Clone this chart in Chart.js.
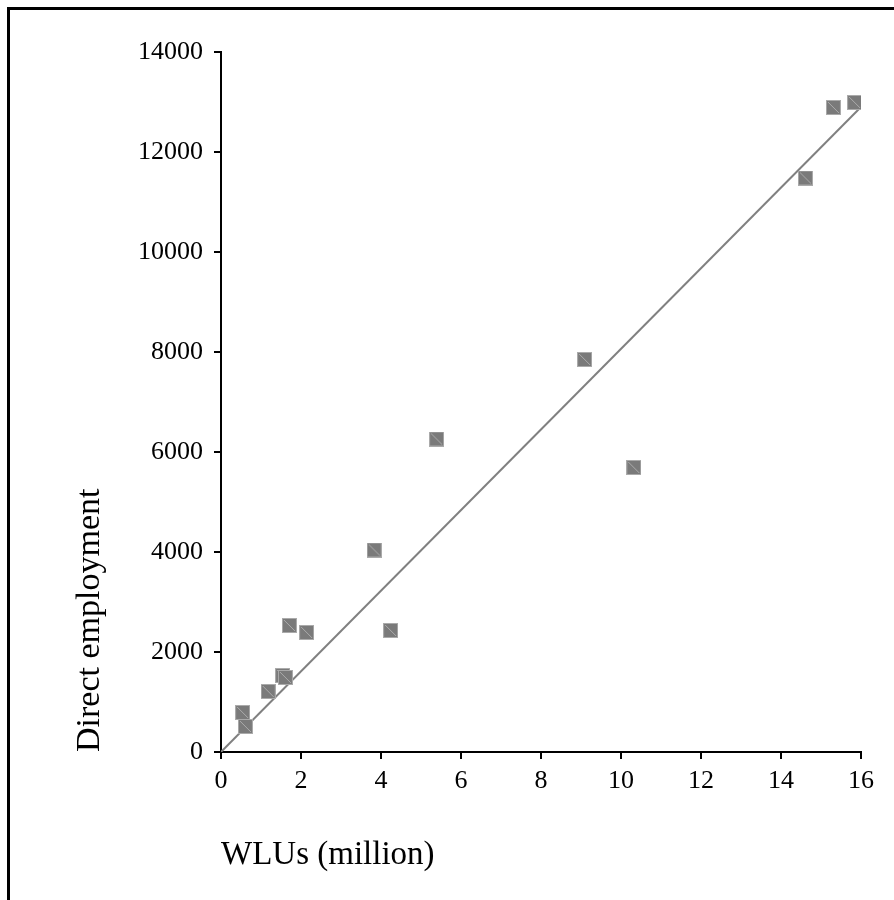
<!DOCTYPE html>
<html>
<head>
<meta charset="utf-8">
<script src="https://cdn.jsdelivr.net/npm/chart.js@4"></script>
<style>
    html, body { margin: 0; padding: 0; background: #fff; overflow: hidden; }
    #wrap { position: relative; width: 894px; height: 900px; }
    #frame { position: absolute; left: 7px; top: 7px; width: 1000px; height: 1000px; border: 3px solid #000; }
    canvas { position: absolute; left: 0; top: 0; }
</style>
</head>
<body>
<div id="wrap">
    <div id="frame"></div>
    <canvas id="chart" width="894" height="900"></canvas>
</div>
<script>
// data
const wlus = [0.54, 0.61, 1.18, 1.54, 1.61, 1.71, 2.14, 3.83, 4.24, 5.39, 9.09, 10.32, 14.61, 15.31, 15.84];
const employment = [790, 510, 1210, 1530, 1490, 2530, 2390, 4040, 2430, 6260, 7850, 5690, 11480, 12890, 12990];
const fitX = [0, 15.95];
const fitY = [0, 12860];
const xTicks = [0, 2, 4, 6, 8, 10, 12, 14, 16];
const yTicks = [0, 2000, 4000, 6000, 8000, 10000, 12000, 14000];

const serif = 'Liberation Serif';

// square marker with light edge and diagonal
function makeMarker() {
    const c = document.createElement('canvas');
    c.width = 15;
    c.height = 15;
    const g = c.getContext('2d');
    g.fillStyle = '#7a7a7a';
    g.fillRect(0, 0, 15, 15);
    g.strokeStyle = '#aaaaaa';
    g.lineWidth = 1;
    g.strokeRect(0.5, 0.5, 14, 14);
    g.beginPath();
    g.moveTo(2, 2);
    g.lineTo(13, 13);
    g.stroke();
    return c;
}

const marker = makeMarker();

const ctx = document.querySelector('#chart').getContext('2d');
new Chart(ctx, {
    type: 'scatter',
    data: {
        datasets: [
            {
                label: 'Fit',
                type: 'line',
                data: fitX.map((x, i) => ({ x: x, y: fitY[i] })),
                borderColor: '#808080',
                borderWidth: 2,
                pointRadius: 0,
                fill: false,
                order: 2
            },
            {
                label: 'Sites',
                data: wlus.map((x, i) => ({ x: x, y: employment[i] })),
                pointStyle: marker,
                pointRadius: 8,
                order: 1
            }
        ]
    },
    options: {
        responsive: false,
        animation: false,
        layout: { padding: { left: 20, right: 33, top: 52, bottom: 10 } },
        plugins: { legend: { display: false }, tooltip: { enabled: false } },
        scales: {
            x: {
                type: 'linear',
                min: 0,
                max: 16,
                afterBuildTicks: s => { s.ticks = xTicks.map(v => ({ value: v })); },
                afterFit: s => { s.height = 138; },
                grid: { display: true, drawOnChartArea: false, tickLength: 7, color: '#000', lineWidth: 2 },
                border: { display: true, color: '#000', width: 2 },
                ticks: { color: '#000', padding: 7, font: { family: serif, size: 26 }, callback: v => String(v) },
                title: {
                    display: true,
                    text: 'WLUs (million)',
                    align: 'start',
                    color: '#000',
                    font: { family: serif, size: 33 },
                    padding: { top: 0, bottom: 15 }
                }
            },
            y: {
                type: 'linear',
                min: 0,
                max: 14000,
                afterBuildTicks: s => { s.ticks = yTicks.map(v => ({ value: v })); },
                afterFit: s => { s.width = 201; },
                grid: { display: true, drawOnChartArea: false, tickLength: 7, color: '#000', lineWidth: 2 },
                border: { display: true, color: '#000', width: 2 },
                ticks: { color: '#000', padding: 11, font: { family: serif, size: 26 }, callback: v => String(v) },
                title: {
                    display: true,
                    text: 'Direct employment',
                    align: 'start',
                    color: '#000',
                    font: { family: serif, size: 34 },
                    padding: { top: 50, bottom: 0 }
                }
            }
        }
    }
});
</script>
</body>
</html>
